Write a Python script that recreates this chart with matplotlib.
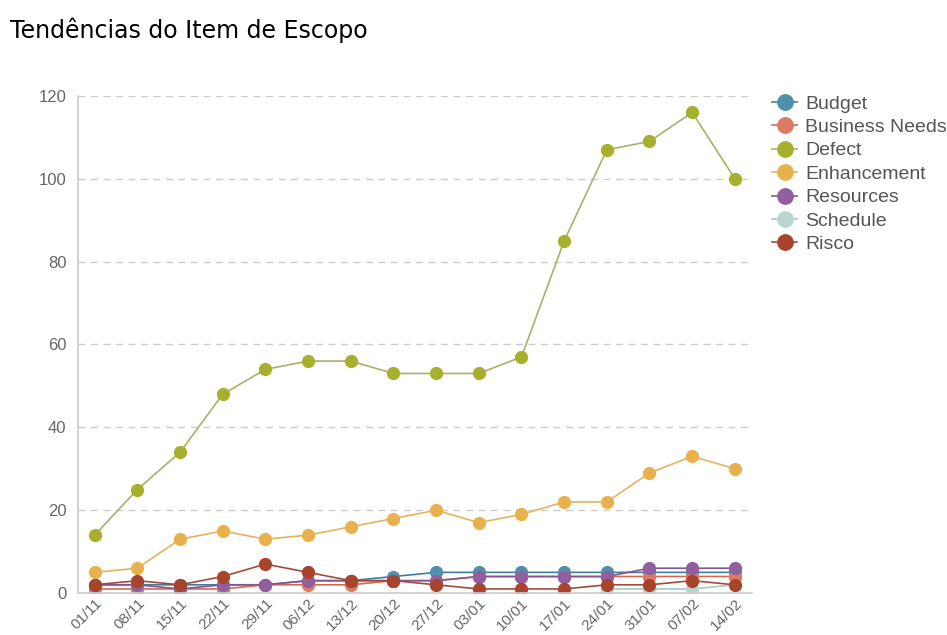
import matplotlib
matplotlib.use("Agg")
import matplotlib.pyplot as plt
import numpy as np

nan = np.nan

# dados
datas = ["01/11", "08/11", "15/11", "22/11", "29/11", "06/12", "13/12", "20/12",
         "27/12", "03/01", "10/01", "17/01", "24/01", "31/01", "07/02", "14/02"]

budget = [2, 2, 2, 2, 2, 3, 3, 4, 5, 5, 5, 5, 5, 5, 5, 5]
business_needs = [1, 1, 1, 1, 2, 2, 2, 3, 3, 4, 4, 4, 4, 4, 4, 4]
defect = [14, 25, 34, 48, 54, 56, 56, 53, 53, 53, 57, 85, 107, 109, 116, 100]
enhancement = [5, 6, 13, 15, 13, 14, 16, 18, 20, 17, 19, 22, 22, 29, 33, 30]
resources = [2, 2, 1, 2, 2, 3, 3, 3, 3, 4, 4, 4, 4, 6, 6, 6]
schedule = [nan, nan, nan, nan, nan, nan, nan, nan, nan, nan, nan, nan, 1, 1, 1, 2]
risco = [2, 3, 2, 4, 7, 5, 3, 3, 2, 1, 1, 1, 2, 2, 3, 2]

series = [
    ("Budget", budget, "#4f8fac", "#3f7f9c"),
    ("Business Needs", business_needs, "#dc7a63", "#d06a55"),
    ("Defect", defect, "#a7b02c", "#a9b06a"),
    ("Enhancement", enhancement, "#e8b14c", "#e3b45c"),
    ("Resources", resources, "#915e9e", "#855592"),
    ("Schedule", schedule, "#b8d6cf", "#a8c8c0"),
    ("Risco", risco, "#a9442c", "#a04c3c"),
]

fig = plt.figure(figsize=(9.47, 6.35), dpi=100)
ax = fig.add_axes([0.082, 0.066, 0.712, 0.783])

x = np.arange(len(datas))
for name, vals, mcol, lcol in series:
    ax.plot(x, vals, color=lcol, linewidth=1.2, marker="o", markersize=8.5,
            markerfacecolor=mcol, markeredgecolor=mcol, label=name)

ax.set_xlim(-0.4, len(datas) - 0.6)
ax.set_ylim(0, 120)
ax.set_yticks([0, 20, 40, 60, 80, 100, 120])
ax.set_xticks(x)
ax.set_xticklabels(datas, rotation=45, ha="right", rotation_mode="anchor")

ax.grid(axis="y", color="#cccccc", linestyle=(0, (5, 4)), linewidth=1)
ax.set_axisbelow(True)
for s in ["top", "right"]:
    ax.spines[s].set_visible(False)
for s in ["left", "bottom"]:
    ax.spines[s].set_color("#cccccc")
    ax.spines[s].set_linewidth(1.2)
ax.tick_params(axis="y", length=0, pad=8, labelsize=12, labelcolor="#666666")
ax.tick_params(axis="x", length=0, pad=2, labelsize=11,
               labelcolor="#666666")
for lbl in ax.get_xticklabels() + ax.get_yticklabels():
    lbl.set_family("Liberation Sans")

leg = ax.legend(loc="upper left", bbox_to_anchor=(1.004, 1.037), frameon=False,
                handlelength=1.3, handletextpad=0.4, labelspacing=0.3,
                markerscale=1.3,
                prop={"family": "Liberation Sans", "size": 14})
for t in leg.get_texts():
    t.set_color("#555555")

fig.text(0.011, 0.952, "Tendências do Item de Escopo", fontsize=17,
         color="black", va="center", ha="left")

fig.savefig("out.png", dpi=100)
